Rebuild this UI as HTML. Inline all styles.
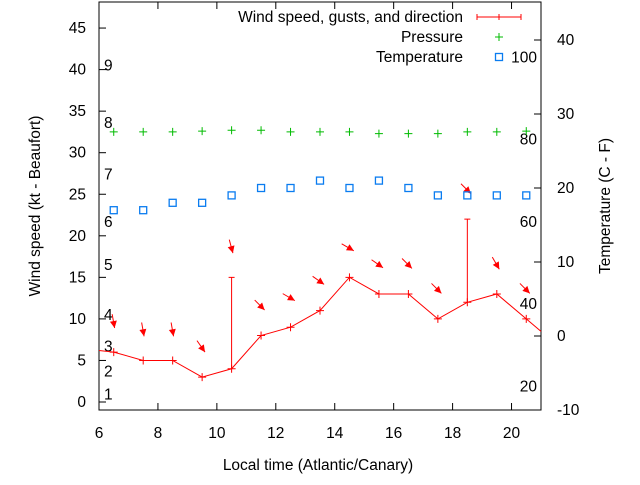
<!DOCTYPE html>
<html><head><meta charset="utf-8"><style>
body{margin:0;background:#fff}
svg{font-family:"Liberation Sans",sans-serif;font-size:15.5px}
</style></head><body>
<svg id="c" width="640" height="480" viewBox="0 0 640 480"></svg>
<script>
const hours=[6.5,7.5,8.5,9.5,10.5,11.5,12.5,13.5,14.5,15.5,16.5,17.5,18.5,19.5,20.5];
const windKt=[6,5,5,3,4,8,9,11,15,13,13,10,12,13,10];
const gustKt=[null,null,null,null,15,null,null,null,null,null,null,null,22,null,null];
const windFrom=[350,350,350,325,345,315,300,305,300,305,315,315,315,330,315];
const pressure=[32.5,32.5,32.5,32.6,32.7,32.7,32.5,32.5,32.5,32.3,32.3,32.3,32.5,32.5,32.6];
const tempC=[17,17,18,18,19,20,20,21,20,21,20,19,19,19,19];
const lineStart=[6,6.2], lineEnd=[21,8.5];
const xTicks=[6,8,10,12,14,16,18,20];
const yTicks=[0,5,10,15,20,25,30,35,40,45];
const y2Ticks=[-10,0,10,20,30,40];
const beaufort=[[1,1],[2,3.8],[3,6.8],[4,10.6],[5,16.6],[6,21.8],[7,27.5],[8,33.7],[9,40.6]];
const fLabels=[20,40,60,80,100];

const L=99,R=541,T=2,B=410;
const X=v=>L+(v-6)/15*(R-L);
const Y=v=>402-v*8.31;
const Y2=c=>336-c*7.4;
const svg=document.getElementById('c');
const NS='http://www.w3.org/2000/svg';
function mk(t,a,p){const e=document.createElementNS(NS,t);for(const k in a)e.setAttribute(k,a[k]);(p||svg).appendChild(e);return e;}

const frame=mk('rect',{x:L,y:T,width:R-L,height:B-T,fill:'none',stroke:'#000','stroke-width':1});


xTicks.forEach(v=>{
  mk('line',{x1:X(v),x2:X(v),y1:B,y2:B-7,stroke:'#000'});
  mk('line',{x1:X(v),x2:X(v),y1:T,y2:T+7,stroke:'#000'});
  const t=mk('text',{x:X(v),y:B+28,'text-anchor':'middle'});t.textContent=v;
  
  
});
yTicks.forEach(v=>{
  mk('line',{x1:L,x2:L+7,y1:Y(v),y2:Y(v),stroke:'#000'});
  const t=mk('text',{x:L-13,y:Y(v)+5,'text-anchor':'end'});t.textContent=v;
  
  
});
y2Ticks.forEach(v=>{
  mk('line',{x1:R,x2:R-7,y1:Y2(v),y2:Y2(v),stroke:'#000'});
  const t=mk('text',{x:R+16,y:Y2(v)+5,'text-anchor':'start'});t.textContent=v;
  
  
});
beaufort.forEach(b=>{
  const t=mk('text',{x:104,y:Y(b[1])+6});t.textContent=b[0];
  
  
});
fLabels.forEach(f=>{
  const t=mk('text',{x:537,y:Y2((f-32)*5/9)+6,'text-anchor':'end'});t.textContent=f;
  
  
});
let t=mk('text',{x:318,y:470,'text-anchor':'middle'});t.textContent='Local time (Atlantic/Canary)';


t=mk('text',{x:0,y:0,'text-anchor':'middle',transform:'translate(40,206) rotate(-90)'});t.textContent='Wind speed (kt - Beaufort)';


t=mk('text',{x:0,y:0,'text-anchor':'middle',transform:'translate(610,206) rotate(-90)'});t.textContent='Temperature (C - F)';



let pts=[[X(lineStart[0]),Y(lineStart[1])]];
hours.forEach((h,i)=>pts.push([X(h),Y(windKt[i])]));
pts.push([X(lineEnd[0]),Y(lineEnd[1])]);
const wl=mk('polyline',{points:pts.map(p=>p.join(',')).join(' '),fill:'none',stroke:'#f00','stroke-width':1});


hours.forEach((h,i)=>{
  const x=X(h),y=Y(windKt[i]);
  const g=mk('path',{d:`M${x-4},${y}H${x+4}M${x},${y-4}V${y+4}`,stroke:'#f00'});
  
  
  if(gustKt[i]!=null){
    const gy=Y(gustKt[i]);
    const gb=mk('path',{d:`M${x},${y}V${gy}M${x-3},${gy}H${x+3}`,stroke:'#f00'});
    
    
  }
  const base=(gustKt[i]!=null?gustKt[i]:windKt[i])+3.5;
  const cx=x,cy=Y(base);
  const a=(windFrom[i]+180)*Math.PI/180;
  const dx=Math.sin(a),dy=-Math.cos(a);
  const tx=cx+dx*5,ty=cy+dy*5,sx=cx-dx*9,sy=cy-dy*9;
  const px=-dy,py=dx;
  const ag=mk('g',{});
  
  
  mk('line',{x1:sx,y1:sy,x2:tx,y2:ty,stroke:'#f00'},ag);
  mk('polygon',{points:`${tx},${ty} ${tx-dx*7+px*3.5},${ty-dy*7+py*3.5} ${tx-dx*7-px*3.5},${ty-dy*7-py*3.5}`,fill:'#f00'},ag);
  const py2=Y(pressure[i]);
  const pp=mk('path',{d:`M${x-4},${py2}H${x+4}M${x},${py2-4}V${py2+4}`,stroke:'#0b0'});
  
  
  const ty2=Y2(tempC[i]);
  const tp=mk('rect',{x:x-3.5,y:ty2-3.5,width:7,height:7,fill:'none',stroke:'#0a7cf0','stroke-width':1.3});
  
  
});

const lg=mk('g',{});


t=mk('text',{x:463,y:22,'text-anchor':'end'},lg);t.textContent='Wind speed, gusts, and direction';
mk('path',{d:'M477,17H521M477,14V20M521,14V20M499,14V20',stroke:'#f00'},lg);
t=mk('text',{x:463,y:42,'text-anchor':'end'},lg);t.textContent='Pressure';
mk('path',{d:'M495,37H503M499,33V41',stroke:'#0b0'},lg);
t=mk('text',{x:463,y:62,'text-anchor':'end'},lg);t.textContent='Temperature';
mk('rect',{x:495.5,y:53.5,width:7,height:7,fill:'none',stroke:'#0a7cf0','stroke-width':1.3},lg);
</script>
</body></html>
